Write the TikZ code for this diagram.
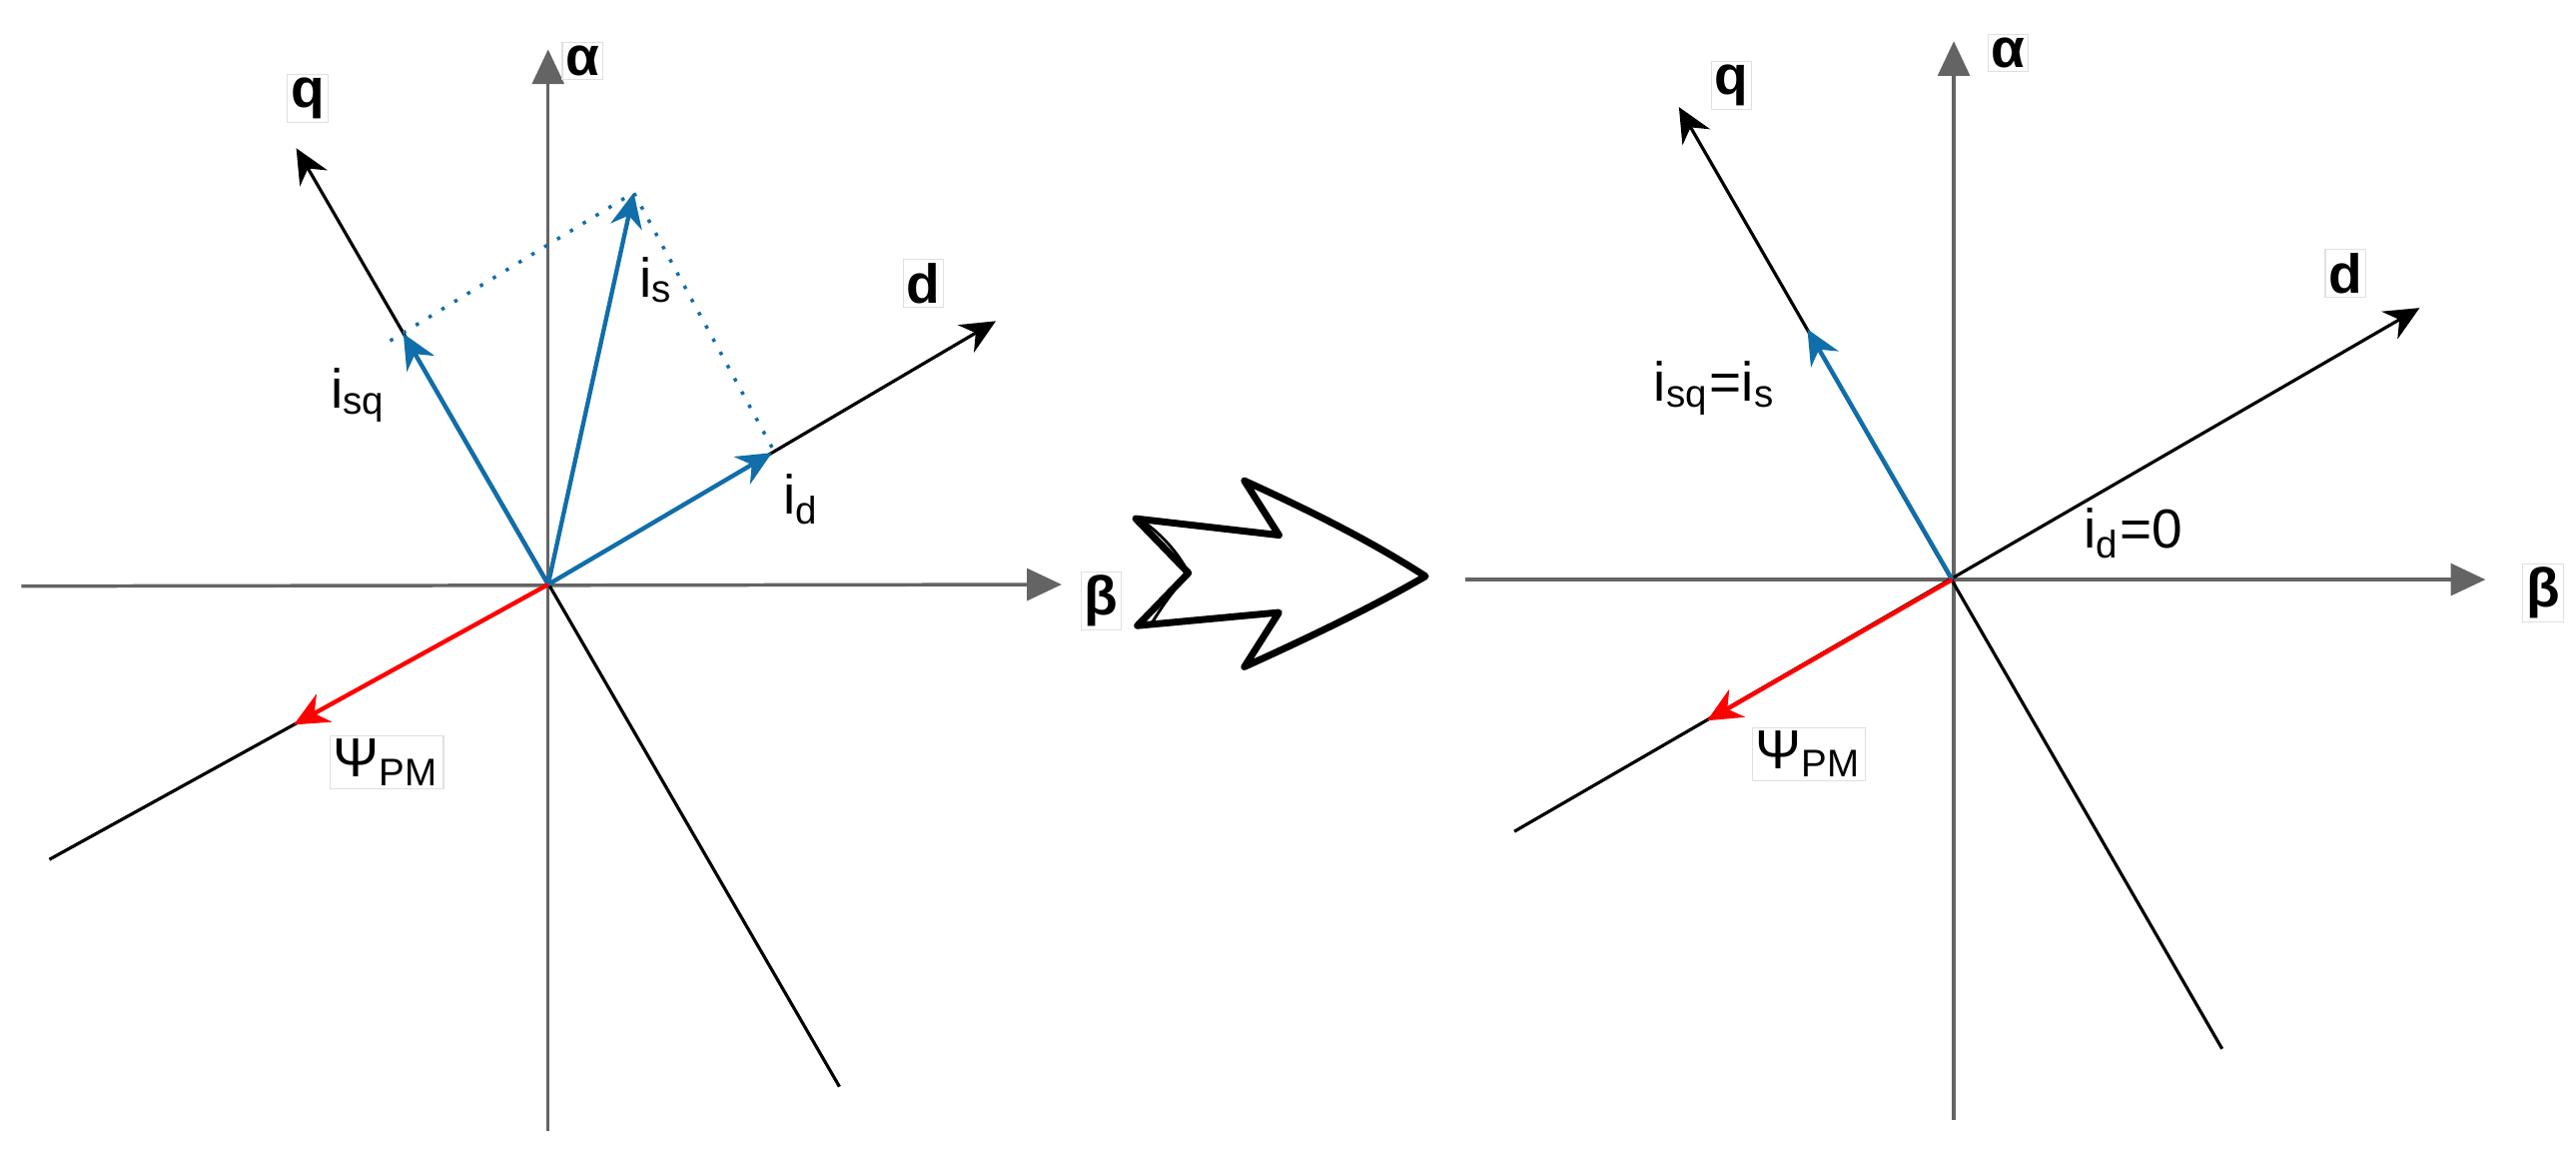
\documentclass[tikz,border=0pt]{standalone}
\usepackage{fontspec}
\setmainfont{Liberation Sans}
\usetikzlibrary{arrows.meta,calc}
\definecolor{ax}{RGB}{100,100,100}
\definecolor{bl}{RGB}{16,110,170}
\begin{document}
\begin{tikzpicture}[x=0.1mm,y=-0.1mm,
  axis/.style={draw=ax,line width=0.6pt,-{Triangle[length=6pt,width=5.5pt]}},
  dq/.style={draw=black,line width=0.55pt},
  dqa/.style={dq,-{Stealth[length=6pt,width=5.5pt]}},
  vec/.style={draw=bl,line width=0.75pt,-{Stealth[length=6pt,width=5.5pt]}},
  flux/.style={draw=red,line width=0.75pt,-{Stealth[length=6pt,width=5.5pt]}},
  lab/.style={font=\fontsize{9.5}{11}\selectfont,inner sep=0.6pt},
  blab/.style={lab,font=\fontsize{9.5}{11}\selectfont\bfseries,draw=black!12,line width=0.2pt}]
\useasboundingbox (0,0) rectangle (1565,698);
% ---------- left ----------
\coordinate (O) at (333,355);
\coordinate (aT) at (333,30); \coordinate (aB) at (333,687);
\coordinate (bL) at (13,356); \coordinate (bR) at (645,355);
\coordinate (qT) at (180,90); \coordinate (qB) at (510,660);
\coordinate (dT) at (605,195); \coordinate (dB) at (30,522);
\coordinate (isq) at ($(O)!0.575!(qT)$); \coordinate (id) at ($(O)!0.5!(dT)$); \coordinate (is) at (385,117);
\coordinate (psi) at ($(O)!0.51!(dB)$);
\coordinate (sqd) at (237,207); \coordinate (idd) at ($(O)!0.505!(dT)$);
\draw[axis] (aB) -- (aT);
\draw[axis] (bL) -- (bR);
\draw[dqa] (qB) -- (qT);
\draw[dq] (dB) -- (O);
\draw[dqa] (O) -- (dT);
\draw[bl,line width=0.6pt,dotted] (sqd) -- (is) -- (idd);
\draw[vec] (O) -- (isq);
\draw[vec] (O) -- (id);
\draw[vec] (O) -- (is);
\draw[flux] (O) -- (psi);
\node[blab] (la) at (354,37) {α};
\node[blab] (lb) at (669,365) {β};
\node[blab] (lq) at (187,60) {q};
\node[blab] (ld) at (561,172) {d};
\node[lab] (lisq) at (218,240) {i\textsubscript{sq}};
\node[lab] (lis) at (399,170) {i\textsubscript{s}};
\node[lab] (lid) at (487,303) {i\textsubscript{d}};
\node[lab,draw=black!12,line width=0.2pt] (lpsi) at (235,463) {Ψ\textsubscript{PM}};
% ---------- transition arrow ----------
\draw[line width=1.2pt,line join=round] (690,315) -- (777,325) -- (756,292) .. controls (800,312) and (835,330) .. (866,350)
  .. controls (835,368) and (800,385) .. (756,405) -- (777,372) -- (691,380) -- (722,348) -- cycle;
\draw[line width=0.5pt] (695,317) .. controls (710,328) and (718,340) .. (722,348);
\draw[line width=0.5pt] (700,378) .. controls (710,362) and (716,355) .. (722,349);
% ---------- right ----------
\coordinate (P) at (1186,352);
\coordinate (AT) at (1187,25); \coordinate (AB) at (1187,680);
\coordinate (BL) at (890,352); \coordinate (BR) at (1510,352);
\coordinate (QT) at (1020,65); \coordinate (QB) at (1350,637);
\coordinate (DT) at (1470,187); \coordinate (DB) at (920,505);
\coordinate (ISQ) at ($(P)!0.53!(QT)$); \coordinate (PSI) at ($(P)!0.56!(DB)$);
\draw[axis] (AB) -- (AT);
\draw[axis] (BL) -- (BR);
\draw[dqa] (QB) -- (QT);
\draw[dqa] (DB) -- (DT);
\draw[vec] (P) -- (ISQ);
\draw[flux] (P) -- (PSI);
\node[blab] (rla) at (1220,32) {α};
\node[blab] (rlb) at (1545,360) {β};
\node[blab] (rlq) at (1052,52) {q};
\node[blab] (rld) at (1425,166) {d};
\node[lab] (risq) at (1042,236) {i\textsubscript{sq}=i\textsubscript{s}};
\node[lab] (rid) at (1296,324) {i\textsubscript{d}=0};
\node[lab,draw=black!12,line width=0.2pt] (rpsi) at (1099,458) {Ψ\textsubscript{PM}};
\end{tikzpicture}
\end{document}
